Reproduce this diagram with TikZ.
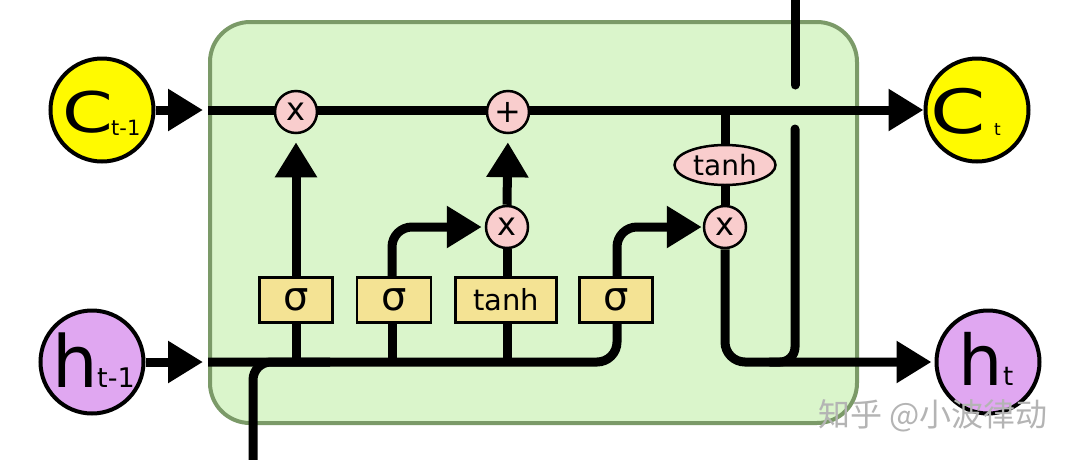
\documentclass[tikz,border=0pt]{standalone}
\usepackage{fontspec}
\setmainfont{DejaVu Sans}
\newfontfamily\cjk{Noto Sans CJK SC}
\usetikzlibrary{arrows.meta,shapes.geometric}
\pgfdeclarelayer{bg}
\pgfdeclarelayer{wires}
\pgfsetlayers{bg,wires,main}
\definecolor{cellgreen}{HTML}{DAF5CB}
\definecolor{cellborder}{HTML}{7B9A68}
\definecolor{boxyellow}{HTML}{F4E394}
\definecolor{oppink}{HTML}{F9CDCD}
\definecolor{cyellow}{HTML}{FFFA00}
\definecolor{hpurple}{HTML}{E0A7F1}
\definecolor{wmgray}{HTML}{B4B4B4}
\newcommand{\fs}[1]{\fontsize{#1}{#1}\selectfont}
\begin{document}
\begin{tikzpicture}[x=1pt,y=-1pt,
  wire/.style={line width=9pt, draw=black},
  arr/.style={wire, -{Triangle[length=35pt,width=40pt]}},
  gatebox/.style={draw, line width=2.5pt, fill=boxyellow, minimum height=45pt, inner sep=0pt},
  opnode/.style={circle, draw, line width=2.5pt, fill=oppink, minimum size=42pt, inner sep=0pt, font=\fs{32}},
  statenode/.style={circle, draw, line width=4pt, minimum size=103pt, inner sep=0pt},
  lbl/.style={inner sep=0pt, anchor=base west},
]
\useasboundingbox (0,0) rectangle (1080,459);

% state circles
\node[statenode, fill=cyellow] (C0) at (102,110) {};
\node[statenode, fill=cyellow] (C1) at (977,110) {};
\node[statenode, fill=hpurple] (h0) at (92,362) {};
\node[statenode, fill=hpurple] (h1) at (988,362) {};

% labels of the state circles
\node[lbl, font=\fs{56}] (tC0) at (62,132) {\scalebox{1.3}[1]{C}};
\node[lbl, font=\fs{21}] (sC0) at (111,135) {t-1};
\node[lbl, font=\fs{72}] (th0) at (52,387) {h};
\node[lbl, font=\fs{27}] (sh0) at (97,387) {t-1};
\node[lbl, font=\fs{61}] (tC1) at (930,133) {\scalebox{1.3}[1]{C}};
\node[lbl, font=\fs{17}] (sC1) at (994,135) {t};
\node[lbl, font=\fs{70}] (th1) at (958,385) {h};
\node[lbl, font=\fs{26}] (sh1) at (1003,385) {t};

% operations
\node[opnode] (f) at (296,112) {x};
\node[opnode] (plus) at (508,112) {+};
\node[opnode] (i) at (507,227) {x};
\node[opnode] (o) at (725,227) {x};
\node[ellipse, draw, line width=2.5pt, fill=oppink, minimum width=101pt, minimum height=40pt, inner sep=0pt, font=\fs{28}] (tc) at (725,165) {tanh};

% gates
\node[gatebox, minimum width=73pt, font=\fs{40}] (g1) at (296,300) {σ};
\node[gatebox, minimum width=74pt, font=\fs{40}] (g2) at (394,300) {σ};
\node[gatebox, minimum width=101pt, font=\fs{29}] (gc) at (506,300) {tanh};
\node[gatebox, minimum width=73pt, font=\fs{40}] (g3) at (616,300) {σ};

% watermark
\node[lbl, text=wmgray, font=\cjk\fs{32}] (wm) at (818,426) {知乎 @小波律动};

\begin{pgfonlayer}{bg}
\node[draw=cellborder, line width=4pt, fill=cellgreen, rounded corners=40pt,
  minimum width=647pt, minimum height=401pt, inner sep=0pt] (cell) at (533.5,222.5) {};
\end{pgfonlayer}

\coordinate (cin) at (208,110);
\coordinate (hin) at (208,362);
\coordinate (xin) at (253,475);
\coordinate (xend) at (330,362);
\coordinate (ctop) at (795,-10);
\coordinate (cbot) at (795,85);
\coordinate (dtop) at (795,129);

\begin{pgfonlayer}{wires}
% inputs into the cell
\draw[arr] (C0.east) -- (203,110);
\draw[arr] (h0.east) -- (203,362);
% cell state
\draw[arr] (cin) -- (C1.west);
% forget gate
\draw[arr, shorten >=8pt] (g1.north) -- (f.south);
% input gate
\draw[arr, rounded corners=20pt, shorten >=3pt] ([xshift=-2pt]g2.north) |- (i.west);
\draw[wire] (gc.north -| i) -- (i.south);
\draw[arr, shorten >=8pt] (i.north) -- (plus.south);
% output gate
\draw[arr, rounded corners=20pt, shorten >=1pt] ([xshift=1pt]g3.north) |- (o.west);
\draw[wire] (o |- cin) -- (o.north);
\draw[arr, rounded corners=20pt, shorten >=3pt] (o.south) |- (h1.west);
% line from the top
\draw[wire, line cap=round] (ctop) -- (cbot);
\draw[wire, line cap=round, rounded corners=15pt] (dtop) -- (795,362) -- (770,362);
% hidden state bus
\draw[wire, rounded corners=20pt] (hin) -| ([xshift=1pt]g3.south);
\draw[wire] (g1.south) -- (g1 |- hin);
\draw[wire] ([xshift=-2pt]g2.south) -- ([xshift=-2pt]g2 |- hin);
\draw[wire] (gc.south -| i) -- (i |- hin);
% x_t from below
\draw[wire, rounded corners=18pt] (xin) |- (xend);
\end{pgfonlayer}
\end{tikzpicture}
\end{document}
